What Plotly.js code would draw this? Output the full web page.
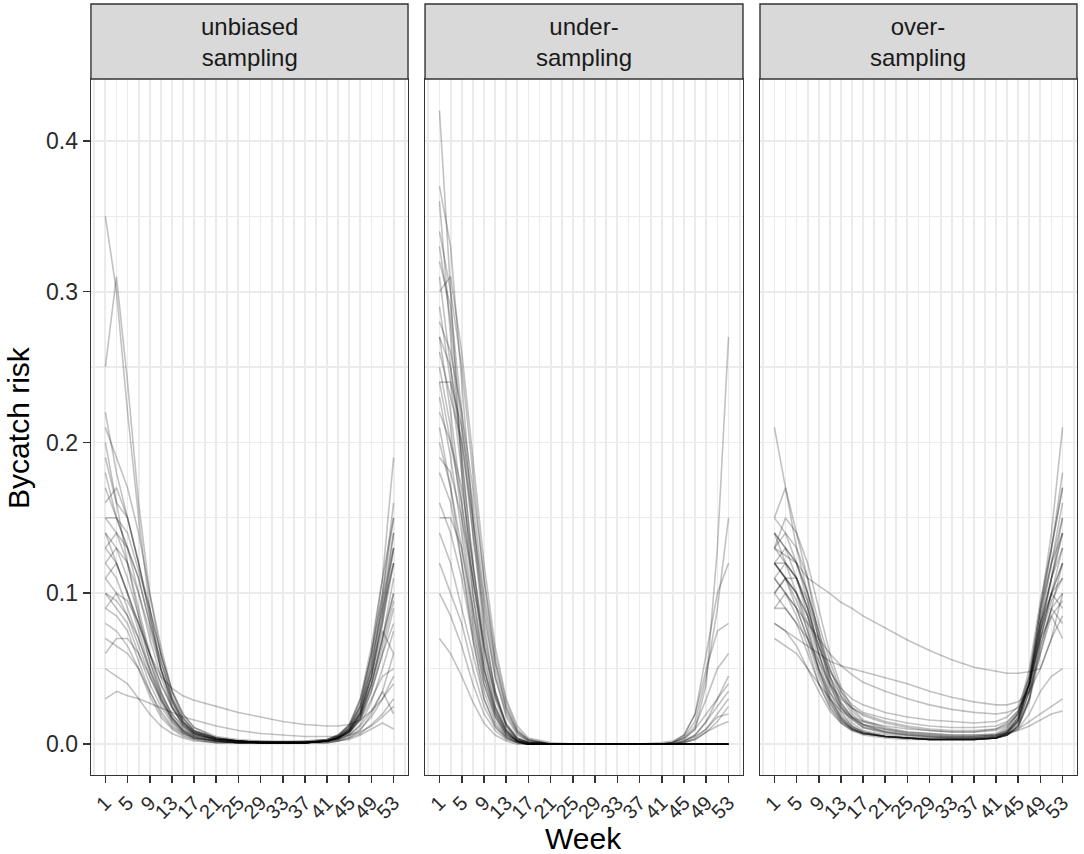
<!DOCTYPE html>
<html>
<head>
<meta charset="utf-8">
<script src="https://cdn.plot.ly/plotly-3.0.1.min.js"></script>
<style>
  html, body { margin: 0; padding: 0; background: #fff; }
  #myDiv { width: 1084px; height: 854px; }
</style>
</head>
<body>
<div id="myDiv"></div>
<script>
// weeks at which each simulated risk curve is read
var weeks = [1, 3, 5, 7, 9, 11, 13, 15, 17, 21, 25, 29, 33, 37, 41, 43, 45, 47, 49, 51, 53];
var weekTicks = [1, 5, 9, 13, 17, 21, 25, 29, 33, 37, 41, 45, 49, 53];
var riskTicks = [0, 0.1, 0.2, 0.3, 0.4];
var riskLabels = ['0.0', '0.1', '0.2', '0.3', '0.4'];
var panelNames = ['unbiased<br>sampling', 'under-<br>sampling', 'over-<br>sampling'];

var unbiased = [
    [0.35, 0.30, 0.22, 0.15, 0.09, 0.05, 0.025, 0.012, 0.006, 0.003, 0.002, 0.001, 0.001, 0.001, 0.002, 0.004, 0.008, 0.018, 0.04, 0.07, 0.10],
    [0.25, 0.31, 0.24, 0.16, 0.10, 0.06, 0.03, 0.015, 0.008, 0.004, 0.002, 0.002, 0.001, 0.002, 0.003, 0.005, 0.01, 0.022, 0.05, 0.09, 0.12],
    [0.21, 0.19, 0.17, 0.14, 0.10, 0.065, 0.035, 0.018, 0.009, 0.004, 0.002, 0.001, 0.001, 0.001, 0.002, 0.004, 0.009, 0.02, 0.045, 0.085, 0.14],
    [0.19, 0.16, 0.15, 0.12, 0.085, 0.05, 0.028, 0.014, 0.007, 0.003, 0.002, 0.001, 0.001, 0.001, 0.003, 0.006, 0.013, 0.03, 0.06, 0.10, 0.15],
    [0.17, 0.15, 0.13, 0.10, 0.07, 0.045, 0.025, 0.013, 0.007, 0.003, 0.002, 0.001, 0.001, 0.001, 0.002, 0.004, 0.009, 0.02, 0.045, 0.08, 0.13],
    [0.15, 0.14, 0.12, 0.09, 0.06, 0.035, 0.018, 0.009, 0.005, 0.002, 0.001, 0.001, 0.001, 0.001, 0.002, 0.005, 0.011, 0.025, 0.055, 0.095, 0.14],
    [0.14, 0.13, 0.11, 0.085, 0.055, 0.032, 0.017, 0.009, 0.005, 0.002, 0.001, 0.001, 0.001, 0.001, 0.002, 0.004, 0.008, 0.018, 0.04, 0.07, 0.11],
    [0.13, 0.12, 0.10, 0.075, 0.05, 0.03, 0.016, 0.008, 0.004, 0.002, 0.001, 0.001, 0.001, 0.001, 0.002, 0.003, 0.007, 0.016, 0.035, 0.06, 0.09],
    [0.12, 0.11, 0.09, 0.07, 0.048, 0.03, 0.017, 0.009, 0.005, 0.002, 0.001, 0.001, 0.001, 0.001, 0.002, 0.005, 0.012, 0.028, 0.06, 0.10, 0.16],
    [0.11, 0.10, 0.085, 0.065, 0.045, 0.028, 0.015, 0.008, 0.004, 0.002, 0.001, 0.001, 0.001, 0.001, 0.003, 0.006, 0.013, 0.03, 0.065, 0.11, 0.19],
    [0.10, 0.09, 0.08, 0.06, 0.04, 0.025, 0.014, 0.007, 0.004, 0.002, 0.001, 0.001, 0.001, 0.001, 0.002, 0.004, 0.009, 0.02, 0.04, 0.07, 0.10],
    [0.09, 0.085, 0.075, 0.055, 0.035, 0.02, 0.011, 0.006, 0.003, 0.001, 0.001, 0.001, 0.001, 0.001, 0.002, 0.003, 0.006, 0.013, 0.028, 0.05, 0.075],
    [0.08, 0.075, 0.065, 0.05, 0.032, 0.018, 0.01, 0.005, 0.003, 0.001, 0.001, 0.001, 0.001, 0.001, 0.001, 0.002, 0.004, 0.009, 0.02, 0.035, 0.06],
    [0.16, 0.17, 0.15, 0.12, 0.09, 0.06, 0.035, 0.02, 0.011, 0.005, 0.003, 0.002, 0.002, 0.002, 0.003, 0.006, 0.012, 0.025, 0.05, 0.08, 0.12],
    [0.12, 0.13, 0.12, 0.10, 0.075, 0.05, 0.03, 0.017, 0.009, 0.004, 0.002, 0.001, 0.001, 0.001, 0.002, 0.004, 0.008, 0.017, 0.035, 0.06, 0.08],
    [0.06, 0.07, 0.07, 0.06, 0.045, 0.03, 0.018, 0.01, 0.006, 0.003, 0.002, 0.001, 0.001, 0.001, 0.002, 0.003, 0.005, 0.01, 0.018, 0.03, 0.045],
    [0.03, 0.035, 0.032, 0.03, 0.027, 0.024, 0.021, 0.018, 0.016, 0.012, 0.009, 0.007, 0.006, 0.005, 0.005, 0.005, 0.006, 0.008, 0.012, 0.018, 0.025],
    [0.20, 0.16, 0.12, 0.085, 0.06, 0.045, 0.037, 0.032, 0.029, 0.025, 0.021, 0.018, 0.015, 0.013, 0.012, 0.012, 0.013, 0.016, 0.022, 0.03, 0.04],
    [0.10, 0.095, 0.085, 0.07, 0.05, 0.033, 0.02, 0.012, 0.007, 0.003, 0.002, 0.001, 0.001, 0.001, 0.002, 0.003, 0.006, 0.012, 0.022, 0.035, 0.02],
    [0.05, 0.045, 0.04, 0.03, 0.02, 0.012, 0.007, 0.004, 0.002, 0.001, 0.001, 0.001, 0.001, 0.001, 0.001, 0.002, 0.003, 0.006, 0.01, 0.014, 0.01],
    [0.14, 0.12, 0.10, 0.08, 0.06, 0.04, 0.025, 0.014, 0.008, 0.004, 0.002, 0.001, 0.001, 0.001, 0.002, 0.005, 0.01, 0.022, 0.045, 0.075, 0.06],
    [0.18, 0.15, 0.13, 0.11, 0.08, 0.055, 0.032, 0.017, 0.009, 0.004, 0.002, 0.001, 0.001, 0.001, 0.002, 0.004, 0.01, 0.024, 0.055, 0.09, 0.13],
    [0.11, 0.12, 0.10, 0.08, 0.055, 0.035, 0.02, 0.011, 0.006, 0.003, 0.001, 0.001, 0.001, 0.001, 0.002, 0.004, 0.008, 0.018, 0.038, 0.065, 0.095],
    [0.07, 0.065, 0.06, 0.05, 0.035, 0.022, 0.012, 0.007, 0.004, 0.002, 0.001, 0.001, 0.001, 0.001, 0.001, 0.002, 0.004, 0.007, 0.013, 0.02, 0.03],
    [0.13, 0.14, 0.13, 0.11, 0.08, 0.05, 0.028, 0.015, 0.008, 0.003, 0.002, 0.001, 0.001, 0.001, 0.002, 0.005, 0.011, 0.026, 0.06, 0.11, 0.15],
    [0.09, 0.10, 0.095, 0.08, 0.06, 0.04, 0.024, 0.013, 0.007, 0.003, 0.002, 0.001, 0.001, 0.001, 0.002, 0.004, 0.009, 0.02, 0.045, 0.085, 0.12],
    [0.22, 0.18, 0.15, 0.12, 0.085, 0.055, 0.03, 0.015, 0.008, 0.003, 0.002, 0.001, 0.001, 0.001, 0.002, 0.004, 0.009, 0.021, 0.05, 0.095, 0.13],
    [0.15, 0.15, 0.14, 0.115, 0.09, 0.06, 0.036, 0.02, 0.011, 0.004, 0.002, 0.001, 0.001, 0.001, 0.002, 0.004, 0.008, 0.016, 0.03, 0.045, 0.05]
];

var underSampling = [
    [0.42, 0.30, 0.18, 0.10, 0.05, 0.022, 0.008, 0.002, 0, 0, 0, 0, 0, 0, 0, 0, 0, 0, 0, 0, 0],
    [0.37, 0.33, 0.24, 0.15, 0.08, 0.035, 0.012, 0.003, 0.001, 0, 0, 0, 0, 0, 0, 0, 0.001, 0.003, 0.008, 0.015, 0.025],
    [0.33, 0.28, 0.21, 0.14, 0.075, 0.035, 0.012, 0.003, 0.001, 0, 0, 0, 0, 0, 0, 0, 0, 0, 0, 0, 0],
    [0.31, 0.25, 0.19, 0.12, 0.065, 0.03, 0.01, 0.003, 0.001, 0, 0, 0, 0, 0, 0, 0.001, 0.003, 0.01, 0.04, 0.13, 0.27],
    [0.29, 0.24, 0.18, 0.11, 0.055, 0.025, 0.009, 0.002, 0, 0, 0, 0, 0, 0, 0, 0, 0, 0, 0, 0, 0],
    [0.27, 0.22, 0.16, 0.10, 0.05, 0.022, 0.008, 0.002, 0, 0, 0, 0, 0, 0, 0, 0.001, 0.005, 0.015, 0.045, 0.09, 0.15],
    [0.25, 0.21, 0.15, 0.09, 0.045, 0.02, 0.007, 0.002, 0, 0, 0, 0, 0, 0, 0, 0, 0, 0, 0, 0, 0],
    [0.23, 0.19, 0.14, 0.085, 0.045, 0.02, 0.007, 0.002, 0, 0, 0, 0, 0, 0, 0.001, 0.002, 0.006, 0.02, 0.05, 0.075, 0.08],
    [0.22, 0.20, 0.17, 0.12, 0.07, 0.035, 0.014, 0.004, 0.001, 0, 0, 0, 0, 0, 0, 0, 0, 0, 0, 0, 0],
    [0.20, 0.17, 0.13, 0.08, 0.04, 0.018, 0.006, 0.002, 0, 0, 0, 0, 0, 0, 0, 0.001, 0.004, 0.012, 0.03, 0.05, 0.06],
    [0.18, 0.16, 0.12, 0.075, 0.04, 0.018, 0.006, 0.002, 0, 0, 0, 0, 0, 0, 0, 0, 0, 0, 0, 0, 0],
    [0.16, 0.14, 0.11, 0.07, 0.035, 0.015, 0.005, 0.001, 0, 0, 0, 0, 0, 0, 0, 0, 0.002, 0.006, 0.015, 0.025, 0.035],
    [0.14, 0.12, 0.09, 0.06, 0.03, 0.013, 0.005, 0.001, 0, 0, 0, 0, 0, 0, 0, 0, 0, 0, 0, 0, 0],
    [0.12, 0.10, 0.08, 0.05, 0.025, 0.011, 0.004, 0.001, 0, 0, 0, 0, 0, 0, 0, 0, 0.002, 0.005, 0.01, 0.018, 0.02],
    [0.10, 0.085, 0.065, 0.04, 0.02, 0.009, 0.003, 0.001, 0, 0, 0, 0, 0, 0, 0, 0, 0, 0, 0, 0, 0],
    [0.07, 0.06, 0.045, 0.028, 0.014, 0.006, 0.002, 0, 0, 0, 0, 0, 0, 0, 0, 0, 0, 0, 0, 0, 0],
    [0.30, 0.31, 0.26, 0.19, 0.12, 0.065, 0.03, 0.012, 0.004, 0.001, 0, 0, 0, 0, 0, 0.001, 0.004, 0.01, 0.02, 0.03, 0.045],
    [0.24, 0.24, 0.21, 0.16, 0.10, 0.055, 0.025, 0.009, 0.003, 0, 0, 0, 0, 0, 0, 0, 0, 0, 0, 0, 0],
    [0.26, 0.23, 0.20, 0.15, 0.095, 0.05, 0.022, 0.008, 0.003, 0, 0, 0, 0, 0, 0, 0.001, 0.006, 0.02, 0.06, 0.10, 0.12],
    [0.36, 0.27, 0.19, 0.12, 0.06, 0.025, 0.009, 0.002, 0, 0, 0, 0, 0, 0, 0, 0, 0, 0, 0, 0, 0],
    [0.19, 0.18, 0.15, 0.11, 0.065, 0.032, 0.013, 0.004, 0.001, 0, 0, 0, 0, 0, 0, 0, 0.001, 0.003, 0.008, 0.012, 0.015],
    [0.28, 0.26, 0.22, 0.17, 0.11, 0.06, 0.028, 0.01, 0.003, 0, 0, 0, 0, 0, 0, 0, 0, 0, 0, 0, 0],
    [0.21, 0.17, 0.12, 0.07, 0.03, 0.012, 0.004, 0.001, 0, 0, 0, 0, 0, 0, 0, 0, 0, 0, 0, 0, 0],
    [0.32, 0.29, 0.22, 0.15, 0.09, 0.045, 0.018, 0.006, 0.002, 0, 0, 0, 0, 0, 0, 0, 0, 0, 0, 0, 0],
    [0.27, 0.25, 0.20, 0.14, 0.085, 0.045, 0.02, 0.007, 0.002, 0, 0, 0, 0, 0, 0, 0, 0.001, 0.004, 0.01, 0.02, 0.03],
    [0.15, 0.15, 0.13, 0.09, 0.05, 0.024, 0.009, 0.003, 0.001, 0, 0, 0, 0, 0, 0, 0, 0, 0, 0, 0, 0],
    [0.24, 0.20, 0.16, 0.11, 0.065, 0.032, 0.013, 0.004, 0.001, 0, 0, 0, 0, 0, 0, 0, 0, 0, 0, 0, 0],
    [0.34, 0.30, 0.25, 0.18, 0.11, 0.055, 0.024, 0.008, 0.002, 0, 0, 0, 0, 0, 0, 0, 0.002, 0.006, 0.015, 0.03, 0.04]
];

var overSampling = [
    [0.21, 0.17, 0.14, 0.11, 0.07, 0.04, 0.022, 0.012, 0.008, 0.005, 0.004, 0.003, 0.003, 0.003, 0.004, 0.007, 0.015, 0.04, 0.09, 0.14, 0.21],
    [0.15, 0.17, 0.13, 0.10, 0.075, 0.045, 0.025, 0.014, 0.009, 0.006, 0.004, 0.003, 0.003, 0.003, 0.004, 0.008, 0.018, 0.045, 0.09, 0.13, 0.17],
    [0.14, 0.13, 0.12, 0.095, 0.06, 0.035, 0.02, 0.012, 0.008, 0.005, 0.004, 0.003, 0.003, 0.003, 0.004, 0.007, 0.016, 0.04, 0.08, 0.12, 0.15],
    [0.13, 0.12, 0.11, 0.085, 0.055, 0.032, 0.018, 0.011, 0.007, 0.005, 0.004, 0.003, 0.003, 0.003, 0.004, 0.006, 0.013, 0.035, 0.075, 0.10, 0.12],
    [0.12, 0.11, 0.10, 0.08, 0.05, 0.03, 0.017, 0.01, 0.007, 0.005, 0.004, 0.003, 0.003, 0.003, 0.004, 0.006, 0.012, 0.03, 0.07, 0.095, 0.11],
    [0.11, 0.12, 0.10, 0.075, 0.048, 0.028, 0.016, 0.01, 0.007, 0.005, 0.004, 0.003, 0.003, 0.003, 0.004, 0.007, 0.014, 0.035, 0.07, 0.10, 0.13],
    [0.10, 0.11, 0.09, 0.07, 0.045, 0.027, 0.016, 0.01, 0.007, 0.005, 0.004, 0.003, 0.003, 0.003, 0.004, 0.006, 0.012, 0.03, 0.065, 0.09, 0.10],
    [0.09, 0.10, 0.085, 0.065, 0.04, 0.025, 0.015, 0.01, 0.007, 0.005, 0.004, 0.003, 0.003, 0.003, 0.004, 0.006, 0.011, 0.028, 0.06, 0.085, 0.095],
    [0.13, 0.14, 0.12, 0.10, 0.07, 0.045, 0.028, 0.018, 0.012, 0.008, 0.006, 0.005, 0.005, 0.005, 0.006, 0.009, 0.018, 0.04, 0.08, 0.11, 0.14],
    [0.12, 0.12, 0.11, 0.09, 0.065, 0.042, 0.027, 0.018, 0.013, 0.009, 0.007, 0.006, 0.005, 0.005, 0.006, 0.009, 0.017, 0.04, 0.075, 0.10, 0.09],
    [0.13, 0.125, 0.12, 0.11, 0.105, 0.10, 0.094, 0.09, 0.085, 0.077, 0.069, 0.062, 0.056, 0.051, 0.048, 0.047, 0.047, 0.048, 0.05, 0.07, 0.10],
    [0.08, 0.075, 0.07, 0.065, 0.06, 0.055, 0.052, 0.05, 0.048, 0.044, 0.04, 0.035, 0.031, 0.028, 0.026, 0.026, 0.028, 0.035, 0.05, 0.07, 0.085],
    [0.11, 0.10, 0.09, 0.08, 0.07, 0.06, 0.052, 0.046, 0.041, 0.035, 0.03, 0.026, 0.023, 0.021, 0.02, 0.021, 0.024, 0.035, 0.06, 0.09, 0.12],
    [0.12, 0.11, 0.10, 0.085, 0.065, 0.048, 0.037, 0.03, 0.026, 0.021, 0.018, 0.016, 0.015, 0.014, 0.015, 0.018, 0.025, 0.045, 0.08, 0.11, 0.14],
    [0.09, 0.09, 0.08, 0.07, 0.055, 0.04, 0.03, 0.024, 0.02, 0.015, 0.012, 0.01, 0.009, 0.009, 0.01, 0.013, 0.02, 0.04, 0.07, 0.10, 0.12],
    [0.14, 0.13, 0.11, 0.09, 0.06, 0.038, 0.024, 0.016, 0.011, 0.008, 0.006, 0.005, 0.004, 0.004, 0.005, 0.008, 0.016, 0.04, 0.085, 0.13, 0.18],
    [0.12, 0.11, 0.095, 0.075, 0.05, 0.03, 0.018, 0.011, 0.008, 0.005, 0.004, 0.003, 0.003, 0.003, 0.004, 0.006, 0.012, 0.03, 0.065, 0.09, 0.08],
    [0.10, 0.09, 0.08, 0.06, 0.04, 0.024, 0.014, 0.009, 0.006, 0.004, 0.003, 0.003, 0.003, 0.003, 0.004, 0.006, 0.01, 0.02, 0.035, 0.045, 0.05],
    [0.08, 0.075, 0.065, 0.05, 0.035, 0.022, 0.014, 0.009, 0.007, 0.005, 0.004, 0.004, 0.004, 0.004, 0.005, 0.007, 0.01, 0.015, 0.02, 0.025, 0.03],
    [0.07, 0.065, 0.06, 0.05, 0.04, 0.03, 0.022, 0.017, 0.013, 0.01, 0.008, 0.007, 0.006, 0.006, 0.006, 0.007, 0.009, 0.012, 0.016, 0.02, 0.022],
    [0.15, 0.14, 0.13, 0.11, 0.08, 0.055, 0.035, 0.022, 0.015, 0.01, 0.007, 0.006, 0.005, 0.005, 0.006, 0.01, 0.02, 0.045, 0.09, 0.12, 0.16],
    [0.13, 0.15, 0.14, 0.12, 0.09, 0.06, 0.038, 0.024, 0.016, 0.011, 0.008, 0.007, 0.006, 0.006, 0.007, 0.011, 0.021, 0.05, 0.095, 0.13, 0.17],
    [0.11, 0.10, 0.09, 0.07, 0.05, 0.034, 0.024, 0.018, 0.015, 0.012, 0.01, 0.009, 0.008, 0.008, 0.01, 0.014, 0.022, 0.04, 0.07, 0.085, 0.07],
    [0.12, 0.11, 0.11, 0.095, 0.07, 0.05, 0.035, 0.026, 0.021, 0.017, 0.014, 0.012, 0.011, 0.011, 0.012, 0.015, 0.022, 0.04, 0.075, 0.11, 0.15],
    [0.12, 0.13, 0.12, 0.10, 0.075, 0.05, 0.032, 0.02, 0.013, 0.008, 0.006, 0.005, 0.004, 0.004, 0.005, 0.008, 0.016, 0.04, 0.085, 0.12, 0.14],
    [0.10, 0.11, 0.10, 0.085, 0.06, 0.04, 0.026, 0.017, 0.011, 0.007, 0.005, 0.004, 0.004, 0.004, 0.005, 0.008, 0.015, 0.036, 0.075, 0.11, 0.13],
    [0.14, 0.12, 0.11, 0.09, 0.065, 0.045, 0.032, 0.024, 0.019, 0.014, 0.011, 0.009, 0.008, 0.008, 0.009, 0.012, 0.02, 0.042, 0.08, 0.10, 0.11]
];

var panels = [unbiased, underSampling, overSampling];
var xDomains = [[0.0839, 0.3764], [0.3921, 0.6854], [0.7011, 0.9935]];
var yDomain = [0.0925, 0.9075];
var font = 'Liberation Sans, Arial, Helvetica, sans-serif';

var data = [];
panels.forEach(function (lines, p) {
    var sfx = p === 0 ? '' : String(p + 1);
    lines.forEach(function (risk) {
        data.push({
            type: 'scatter',
            mode: 'lines',
            x: weeks,
            y: risk,
            xaxis: 'x' + sfx,
            yaxis: 'y' + sfx,
            showlegend: false,
            hoverinfo: 'skip',
            line: { color: 'rgba(0,0,0,0.24)', width: 1.6 }
        });
    });
});

var layout = {
    width: 1084,
    height: 854,
    margin: { l: 0, r: 0, t: 0, b: 0, pad: 0 },
    paper_bgcolor: '#ffffff',
    plot_bgcolor: '#ffffff',
    font: { family: font, size: 20, color: '#333333' },
    showlegend: false,
    shapes: [],
    annotations: [
        {
            text: 'Week', xref: 'paper', yref: 'paper',
            x: 0.5387, y: 0.0187, xanchor: 'center', yanchor: 'middle',
            showarrow: false, font: { family: font, size: 30, color: '#000000' }
        },
        {
            text: 'Bycatch risk', xref: 'paper', yref: 'paper',
            x: 0.0165, y: 0.5, xanchor: 'center', yanchor: 'middle', textangle: -90,
            showarrow: false, font: { family: font, size: 30, color: '#000000' }
        }
    ]
};

xDomains.forEach(function (dom, p) {
    var sfx = p === 0 ? '' : String(p + 1);
    layout['xaxis' + sfx] = {
        domain: dom,
        anchor: 'y' + sfx,
        range: [-1.6, 55.6],
        tickmode: 'array',
        tickvals: weekTicks,
        ticktext: weekTicks.map(String),
        tickangle: -45,
        ticks: 'outside',
        ticklen: 7,
        tickwidth: 1.6,
        tickcolor: '#333333',
        tickfont: { family: font, size: 20, color: '#2b2b2b' },
        showline: true,
        mirror: true,
        linecolor: '#333333',
        linewidth: 1.4,
        showgrid: true,
        gridcolor: '#EBEBEB',
        gridwidth: 1.8,
        minor: { tick0: 1, dtick: 2, showgrid: true, gridcolor: '#EBEBEB', gridwidth: 1.8, ticks: '' },
        zeroline: false,
        fixedrange: true
    };
    layout['yaxis' + sfx] = {
        domain: yDomain,
        anchor: 'x' + sfx,
        range: [-0.0205, 0.441],
        tickmode: 'array',
        tickvals: riskTicks,
        ticktext: riskLabels,
        showticklabels: p === 0,
        ticks: p === 0 ? 'outside' : '',
        ticklen: 7,
        tickwidth: 1.6,
        tickcolor: '#333333',
        tickfont: { family: font, size: 23, color: '#2b2b2b' },
        showline: true,
        mirror: true,
        linecolor: '#333333',
        linewidth: 1.4,
        showgrid: true,
        gridcolor: '#EBEBEB',
        gridwidth: 1.8,
        minor: { tick0: 0, dtick: 0.05, showgrid: true, gridcolor: '#EBEBEB', gridwidth: 1.2, ticks: '' },
        zeroline: false,
        fixedrange: true
    };
    // facet strip above each panel
    layout.shapes.push({
        type: 'rect', xref: 'paper', yref: 'paper',
        x0: dom[0], x1: dom[1], y0: yDomain[1], y1: 0.9953,
        fillcolor: '#D9D9D9', line: { color: '#333333', width: 1.4 }
    });
    layout.annotations.push({
        text: panelNames[p], xref: 'paper', yref: 'paper',
        x: (dom[0] + dom[1]) / 2, y: 0.9514, xanchor: 'center', yanchor: 'middle',
        showarrow: false, font: { family: font, size: 24, color: '#1A1A1A' }
    });
});

const config = {
    displayModeBar: false,
    staticPlot: true
};

Plotly.newPlot('myDiv', data, layout, config);
</script>
</body>
</html>
